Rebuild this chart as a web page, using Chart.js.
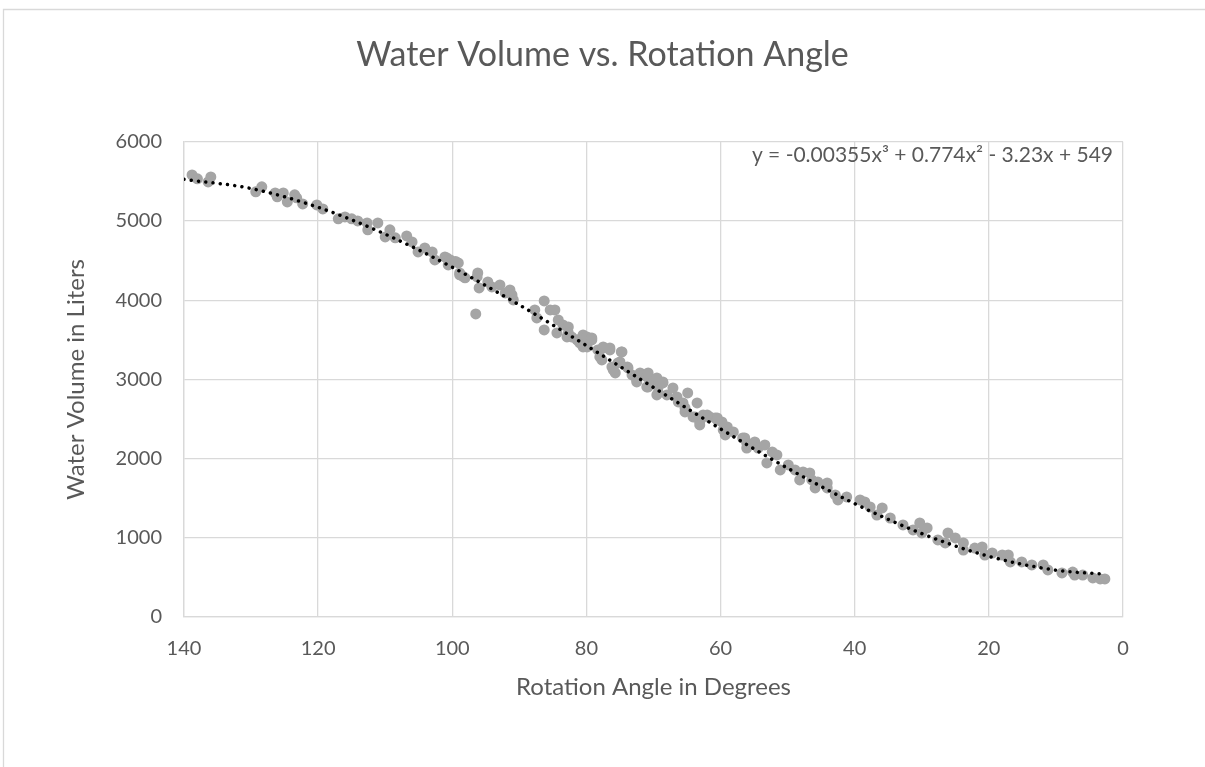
<!DOCTYPE html>
<html>
<head>
<meta charset="utf-8">
<title>Water Volume vs. Rotation Angle</title>
<script src="https://cdn.jsdelivr.net/npm/chart.js@4.4.1/dist/chart.umd.min.js"></script>
<style>
  html, body { margin: 0; padding: 0; background: #fff; }
  #wrap { width: 1205px; height: 767px; position: relative; }
</style>
</head>
<body>
<div id="wrap"><canvas id="volumeChart" width="1205" height="767"></canvas></div>
<script>
// measured angle (degrees) and water volume (liters)
const angle = [
    138.8, 138.0, 136.4, 136.0, 129.3, 128.4, 126.4, 126.1, 125.2, 124.6,
    123.5, 123.2, 122.3, 120.2, 119.3, 117.0, 116.0, 115.0, 114.1, 112.7,
    112.6, 111.1, 110.0, 109.3, 108.5, 106.8, 106.0, 105.1, 104.1, 103.0,
    102.6, 101.1, 100.6, 99.1, 98.9, 98.1, 100.8, 100.3, 99.5, 98.9,
    98.4, 96.5, 96.3, 96.2, 96.0, 94.7, 94.1, 92.9, 92.1, 91.4,
    90.9, 91.1, 87.7, 87.4, 86.3, 86.3, 85.4, 84.7, 84.2, 84.4,
    83.5, 82.7, 82.9, 82.2, 81.4, 81.0, 80.5, 79.9, 79.2, 79.9,
    78.3, 77.5, 76.5, 77.7, 76.2, 75.7, 74.7, 75.0, 73.9, 73.2,
    72.5, 72.0, 71.0, 70.8, 70.1, 69.3, 68.6, 69.5, 68.0, 67.1,
    66.5, 65.6, 64.9, 65.3, 64.1, 63.5, 63.1, 61.9, 60.8, 59.6,
    59.0, 56.4, 56.1, 54.9, 62.6, 61.6, 60.5, 59.8, 59.3, 58.1,
    56.7, 56.1, 54.4, 53.4, 53.1, 52.3, 51.6, 51.1, 49.9, 48.9,
    48.2, 47.7, 46.7, 46.4, 45.9, 45.5, 44.1, 44.1, 42.9, 42.5,
    41.2, 39.2, 38.5, 37.7, 36.7, 35.9, 34.7, 32.8, 31.3, 30.3,
    30.0, 29.2, 27.6, 26.5, 26.1, 25.0, 23.8, 23.8, 22.1, 21.0,
    20.6, 19.5, 18.0, 17.1, 16.8, 15.1, 13.6, 11.9, 11.2, 9.1,
    7.5, 7.2, 6.0, 4.5, 3.4, 2.7, 82.7, 81.3, 79.9, 79.2,
    80.5, 77.5, 76.5, 74.8, 78.0, 76.0, 75.3, 73.8, 72.5, 70.8,
    71.0, 69.5, 68.6, 69.3, 66.3, 65.3, 63.8, 62.0, 63.1, 60.5
];
const volume = [
    5582, 5532, 5494, 5557, 5368, 5431, 5355, 5305, 5355, 5241,
    5330, 5292, 5216, 5203, 5153, 5027, 5052, 5027, 5001, 4976,
    4888, 4976, 4799, 4888, 4787, 4812, 4736, 4610, 4660, 4610,
    4509, 4547, 4446, 4471, 4320, 4282, 4534, 4509, 4490, 4345,
    4300, 3827, 4294, 4345, 4155, 4231, 4168, 4193, 4092, 4130,
    4004, 4067, 3877, 3776, 3991, 3625, 3877, 3877, 3751, 3587,
    3688, 3663, 3536, 3536, 3498, 3461, 3562, 3524, 3498, 3410,
    3372, 3397, 3372, 3246, 3158, 3082, 3347, 3221, 3158, 3057,
    2993, 3082, 3031, 2905, 2968, 2905, 2955, 2804, 2804, 2892,
    2779, 2703, 2829, 2589, 2526, 2703, 2463, 2526, 2513, 2362,
    2400, 2261, 2198, 2210, 2551, 2526, 2513, 2463, 2299, 2337,
    2261, 2134, 2134, 2172, 1945, 2084, 2046, 1857, 1920, 1857,
    1730, 1831, 1819, 1730, 1629, 1705, 1692, 1629, 1541, 1478,
    1516, 1478, 1452, 1389, 1288, 1377, 1250, 1162, 1099, 1187,
    1061, 1124, 973, 935, 1061, 998, 846, 935, 871, 884,
    783, 808, 783, 783, 695, 695, 657, 657, 594, 556,
    568, 530, 530, 493, 480, 480, 3587, 3498, 3536, 3524,
    3410, 3410, 3397, 3347, 3284, 3120, 3208, 3145, 2968, 3082,
    2905, 3019, 2968, 2829, 2716, 2640, 2526, 2551, 2425, 2488
];

// polynomial trendline
const trendAngle = [140, 130, 120, 110, 100, 90, 80, 70, 60, 50, 40, 30, 20, 10, 2.7];
const trendVolume = [5526, 5410, 5173, 4834, 4416, 3940, 3427, 2898, 2375, 1879, 1431, 1053, 766, 591, 540];
const trendLabel = 'y = -0.00355x\u00B3 + 0.774x\u00B2 - 3.23x + 549';

const xTicks = [0, 20, 40, 60, 80, 100, 120, 140];
const yTicks = [0, 1000, 2000, 3000, 4000, 5000, 6000];

const textColor = '#595959';
const gridColor = '#d9d9d9';
const fontFamily = 'Lato, "Open Sans", sans-serif';

// chart frame and the equation label
const frameAndLabel = {
    id: 'frameAndLabel',
    beforeDraw(chart) {
        const ctx = chart.ctx;
        ctx.save();
        ctx.fillStyle = '#ffffff';
        ctx.fillRect(0, 0, chart.width, chart.height);
        ctx.strokeStyle = gridColor;
        ctx.lineWidth = 1.3;
        ctx.beginPath();
        ctx.moveTo(3.5, chart.height);
        ctx.lineTo(3.5, 9.5);
        ctx.lineTo(chart.width, 9.5);
        ctx.stroke();
        ctx.restore();
    },
    afterDraw(chart) {
        const ctx = chart.ctx;
        const area = chart.chartArea;
        ctx.save();
        ctx.font = '21px ' + fontFamily;
        ctx.fillStyle = textColor;
        ctx.textAlign = 'right';
        ctx.textBaseline = 'middle';
        ctx.fillText(trendLabel, area.right - 10, area.top + 13);
        ctx.restore();
    }
};

function drawChart() {
    const ctx = document.getElementById('volumeChart').getContext('2d');

    new Chart(ctx, {
        type: 'scatter',
        data: {
            datasets: [{
                label: 'Poly. trend',
                data: trendAngle.map((a, i) => ({ x: a, y: trendVolume[i] })),
                showLine: true,
                borderColor: '#000000',
                borderWidth: 3.5,
                borderDash: [0.001, 7.3],
                borderCapStyle: 'round',
                cubicInterpolationMode: 'monotone',
                pointRadius: 0,
                fill: false
            }, {
                label: 'Water Volume',
                data: angle.map((a, i) => ({ x: a, y: volume[i] })),
                backgroundColor: '#a5a5a5',
                borderWidth: 0,
                pointRadius: 5.5,
                pointHoverRadius: 5.5
            }]
        },
        options: {
            responsive: false,
            animation: false,
            layout: { padding: 0 },
            plugins: {
                legend: { display: false },
                tooltip: { enabled: false },
                title: {
                    display: true,
                    text: 'Water Volume vs. Rotation Angle',
                    color: textColor,
                    font: { family: fontFamily, size: 34, weight: 'normal', lineHeight: 1.2 },
                    padding: { top: 35, bottom: 66 }
                }
            },
            scales: {
                x: {
                    type: 'linear',
                    reverse: true,
                    min: 0,
                    max: 140,
                    afterBuildTicks: scale => { scale.ticks = xTicks.map(v => ({ value: v })); },
                    afterFit: scale => { scale.height = 150; },
                    grid: { color: gridColor, lineWidth: 1.3, drawTicks: false },
                    border: { color: gridColor, width: 1.3 },
                    ticks: {
                        color: textColor,
                        padding: 20,
                        maxRotation: 0,
                        font: { family: fontFamily, size: 20 }
                    },
                    title: {
                        display: true,
                        text: 'Rotation Angle in Degrees',
                        color: textColor,
                        font: { family: fontFamily, size: 24 },
                        padding: { top: 0, bottom: 65 }
                    }
                },
                y: {
                    min: 0,
                    max: 6000,
                    afterBuildTicks: scale => { scale.ticks = yTicks.map(v => ({ value: v })); },
                    afterFit: scale => { scale.width = 184; },
                    grid: { color: gridColor, lineWidth: 1.3, drawTicks: false },
                    border: { color: gridColor, width: 1.3 },
                    ticks: {
                        color: textColor,
                        padding: 22,
                        font: { family: fontFamily, size: 20 },
                        callback: v => String(v)
                    },
                    title: {
                        display: true,
                        text: 'Water Volume in Liters',
                        color: textColor,
                        font: { family: fontFamily, size: 24 },
                        padding: { top: 62, bottom: 0 }
                    }
                },
                // empty right-hand strip so the title stays centred on the whole chart
                yRight: {
                    position: 'right',
                    display: true,
                    afterFit: scale => { scale.width = 82; },
                    grid: { display: false, drawTicks: false },
                    border: { display: false },
                    ticks: { display: false }
                }
            }
        },
        plugins: [frameAndLabel]
    });
}

document.addEventListener('DOMContentLoaded', () => {
    drawChart();
});
</script>
</body>
</html>
